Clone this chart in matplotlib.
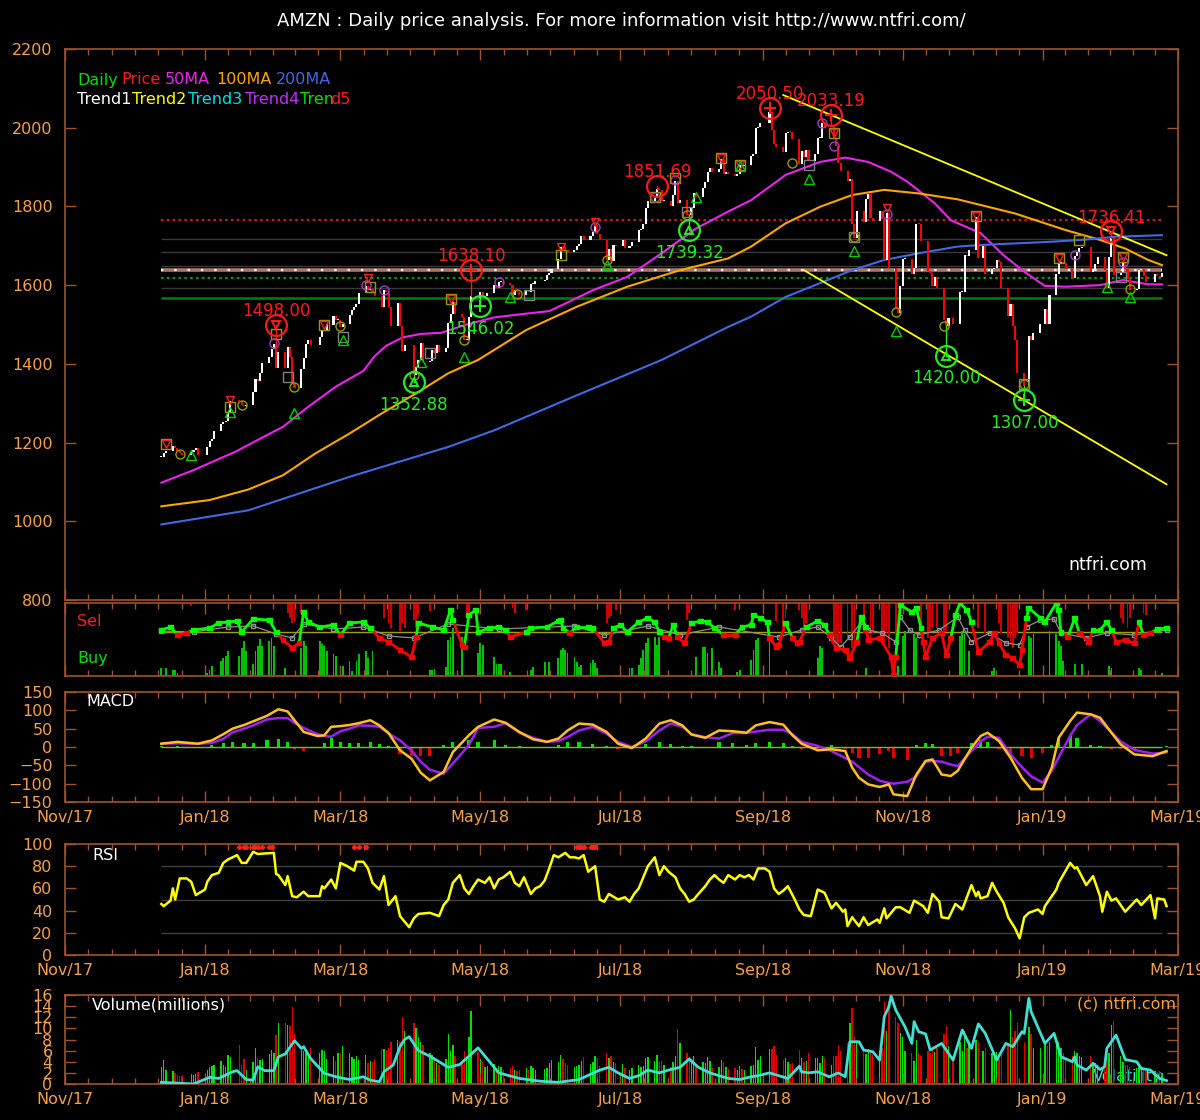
import numpy as np
import pandas as pd
import matplotlib
matplotlib.use('Agg')
import matplotlib.pyplot as plt
import matplotlib.dates as mdates
from matplotlib.ticker import FixedLocator

# ---------------- data ----------------
# daily closes, one list per month (13 Dec 2017 .. 22 Feb 2019)
close_2017_12 = [1164.13, 1174.26, 1179.14, 1190.58, 1187.38, 1177.62, 1174.76, 1168.36, 1176.76, 1182.26, 1186.10, 1169.47]
close_2018_01 = [1189.01, 1204.20, 1209.59, 1229.14, 1246.87, 1252.70, 1254.33, 1276.68, 1305.20, 1304.86, 1295.00,
                 1293.32, 1294.58, 1327.31, 1362.54, 1357.51, 1377.95, 1402.05, 1417.68, 1437.82, 1450.89]
close_2018_02 = [1390.00, 1429.95, 1390.00, 1442.84, 1416.78, 1350.50, 1339.60, 1386.23, 1414.51, 1451.05, 1461.76,
                 1448.69, 1468.35, 1482.92, 1484.76, 1500.00, 1521.95, 1511.98, 1512.45]
close_2018_03 = [1493.45, 1500.25, 1523.61, 1537.64, 1545.00, 1551.86, 1578.89, 1598.39, 1588.18, 1591.00, 1582.32,
                 1571.68, 1544.93, 1586.51, 1581.86, 1544.10, 1495.56, 1555.86, 1497.05, 1431.42, 1447.34]
close_2018_04 = [1371.99, 1392.05, 1410.57, 1451.75, 1405.23, 1406.08, 1436.22, 1427.05, 1448.50, 1430.79, 1441.50,
                 1503.83, 1527.84, 1556.91, 1527.49, 1517.86, 1460.09, 1460.17, 1517.96, 1572.62, 1566.13]
close_2018_05 = [1582.26, 1569.68, 1572.08, 1580.95, 1600.14, 1592.39, 1608.00, 1609.08, 1602.91, 1601.54, 1576.12,
                 1587.28, 1581.76, 1574.37, 1585.46, 1581.40, 1601.86, 1603.07, 1610.15, 1612.87, 1624.89, 1629.62]
close_2018_06 = [1641.54, 1665.27, 1696.35, 1695.75, 1689.30, 1683.99, 1689.12, 1698.75, 1704.86, 1723.86, 1715.97,
                 1723.79, 1734.78, 1750.08, 1730.22, 1715.67, 1663.15, 1691.09, 1660.51, 1701.45, 1699.80]
close_2018_07 = [1713.78, 1693.96, 1699.73, 1710.63, 1739.02, 1743.07, 1755.00, 1796.62, 1813.03, 1822.49, 1843.93,
                 1842.92, 1812.97, 1813.70, 1802.00, 1829.24, 1863.61, 1808.00, 1817.27, 1779.22, 1777.44]
close_2018_08 = [1797.17, 1834.33, 1823.29, 1847.75, 1862.48, 1886.52, 1898.52, 1886.30, 1896.20, 1919.65, 1882.62,
                 1886.52, 1882.22, 1876.71, 1883.42, 1904.90, 1902.90, 1905.39, 1927.68, 1932.82, 1998.10, 2002.38, 2012.71]
close_2018_09 = [2039.51, 1994.82, 1958.31, 1952.07, 1939.01, 1987.15, 1990.00, 1989.87, 1970.19, 1908.03, 1941.05,
                 1926.42, 1944.30, 1915.01, 1934.36, 1974.55, 1974.85, 2012.98, 2003.00]
close_2018_10 = [2004.36, 1971.31, 1952.76, 1909.42, 1889.65, 1864.42, 1870.32, 1755.25, 1719.36, 1788.61, 1760.95,
                 1819.96, 1831.73, 1770.72, 1764.03, 1789.30, 1768.70, 1664.20, 1782.17, 1642.81, 1538.88, 1530.42, 1598.01]
close_2018_11 = [1665.53, 1665.53, 1627.80, 1642.81, 1755.49, 1754.91, 1712.43, 1636.85, 1631.17, 1599.01, 1619.44,
                 1593.41, 1512.29, 1495.46, 1516.73, 1502.06, 1581.33, 1581.42, 1677.75, 1673.57, 1690.17]
close_2018_12 = [1772.36, 1668.40, 1699.19, 1629.13, 1641.03, 1643.24, 1663.54, 1658.38, 1591.91, 1520.91, 1551.48,
                 1495.08, 1460.83, 1377.45, 1343.96, 1470.90, 1461.64, 1478.02, 1501.97]
close_2019_01 = [1539.13, 1500.28, 1575.39, 1629.51, 1656.58, 1659.42, 1656.22, 1640.56, 1617.21, 1674.56, 1683.78,
                 1693.22, 1696.20, 1632.17, 1640.02, 1654.93, 1670.57, 1637.89, 1593.88, 1670.43, 1718.73]
close_2019_02 = [1626.23, 1633.31, 1658.81, 1640.26, 1614.37, 1588.22, 1591.00, 1638.01, 1640.00, 1622.65, 1607.95,
                 1627.58, 1622.10, 1619.44, 1631.56]

# daily volume in millions, same days
vol_2017_12 = [3.1, 4.3, 2.6, 2.3, 2.0, 1.6, 1.4, 1.5, 1.8, 1.7, 1.8, 2.1]
vol_2018_01 = [2.5, 3.0, 3.2, 3.4, 4.2, 3.5, 3.0, 5.2, 4.8, 7.1, 3.5, 4.5, 2.6, 4.0, 6.5, 4.7, 4.3, 4.5, 5.4, 6.1, 5.5]
vol_2018_02 = [8.8, 11.0, 10.9, 10.6, 10.4, 13.8, 9.0, 6.2, 6.0, 5.5, 5.0, 6.5, 5.5, 6.2, 6.0, 4.5, 5.0, 4.2, 5.5]
vol_2018_03 = [5.5, 6.8, 5.5, 4.8, 4.5, 5.0, 4.3, 5.2, 3.8, 4.2, 4.0, 4.5, 6.3, 6.3, 6.1, 6.5, 7.5, 8.0, 7.5, 12.0, 9.5]
vol_2018_04 = [11.0, 10.0, 8.5, 7.5, 7.0, 5.5, 5.2, 4.8, 3.8, 3.5, 4.5, 9.0, 6.0, 7.0, 5.0, 4.0, 6.0, 4.5, 8.5, 13.2, 5.8]
vol_2018_05 = [4.5, 3.9, 3.0, 3.2, 3.6, 2.9, 3.3, 3.0, 2.6, 2.9, 3.3, 2.6, 2.4, 2.5, 2.8, 2.6, 3.3, 2.9, 2.5, 2.7, 2.9, 3.8]
vol_2018_06 = [4.3, 4.0, 5.3, 4.5, 3.8, 3.4, 3.0, 3.3, 3.5, 4.2, 4.8, 3.6, 3.9, 5.0, 4.6, 3.2, 5.6, 4.7, 5.1, 3.9, 3.8]
vol_2018_07 = [3.6, 2.8, 2.5, 2.9, 3.5, 3.0, 3.2, 4.7, 4.8, 4.1, 5.3, 3.9, 4.2, 3.4, 3.0, 3.9, 5.1, 9.9, 7.3, 5.6, 4.9]
vol_2018_08 = [4.1, 5.1, 3.5, 3.9, 3.7, 4.9, 4.1, 2.8, 3.1, 4.3, 4.0, 3.0, 2.7, 2.9, 2.5, 3.3, 2.7, 2.5, 3.3, 3.4, 6.6, 4.3, 5.0]
vol_2018_09 = [6.3, 6.3, 6.8, 5.3, 4.3, 4.6, 3.9, 3.6, 3.7, 6.1, 4.6, 4.0, 4.2, 5.5, 4.6, 4.6, 3.8, 5.0, 4.6]
vol_2018_10 = [3.5, 5.1, 5.1, 7.0, 5.9, 7.3, 10.9, 13.6, 8.5, 7.4, 6.6, 5.4, 6.3, 6.0, 5.2, 6.0, 6.5, 14.8, 9.5, 15.0,
               12.0, 11.0, 9.1]
vol_2018_11 = [8.5, 6.0, 5.5, 4.2, 8.0, 5.5, 5.0, 6.0, 5.5, 6.2, 5.8, 6.5, 9.0, 10.5, 6.8, 5.0, 7.5, 6.0, 9.5, 6.5, 7.0]
vol_2018_12 = [8.0, 7.5, 6.0, 6.5, 5.5, 5.0, 5.8, 4.5, 6.2, 7.0, 13.3, 8.5, 9.5, 11.0, 7.5, 10.3, 9.0, 6.5, 6.5]
vol_2019_01 = [7.5, 6.8, 7.5, 7.0, 7.5, 6.5, 5.5, 4.5, 5.0, 6.0, 5.5, 5.0, 4.8, 5.0, 4.0, 3.8, 3.5, 4.5, 5.0, 5.5, 10.6]
vol_2019_02 = [11.3, 5.0, 4.0, 3.5, 3.5, 3.0, 2.8, 3.0, 2.7, 2.5, 2.5, 2.3, 2.2, 2.4, 2.0]

market_holidays = ['2017-12-25', '2018-01-01', '2018-01-15', '2018-02-19', '2018-03-30', '2018-05-28',
                   '2018-07-04', '2018-09-03', '2018-11-22', '2018-12-05', '2018-12-25', '2019-01-01',
                   '2019-01-21', '2019-02-18']

# moving averages
ma50 = [('2017-12-13', 1098), ('2017-12-27', 1130), ('2018-01-14', 1176), ('2018-01-30', 1225), ('2018-02-04', 1240),
        ('2018-02-15', 1291), ('2018-02-27', 1342), ('2018-03-11', 1382), ('2018-03-16', 1420), ('2018-03-21', 1446),
        ('2018-03-28', 1467), ('2018-04-05', 1476), ('2018-04-14', 1479), ('2018-04-25', 1500), ('2018-05-07', 1518),
        ('2018-05-20', 1527), ('2018-05-31', 1534), ('2018-06-08', 1556), ('2018-06-19', 1587), ('2018-07-04', 1621),
        ('2018-07-19', 1681), ('2018-08-03', 1744), ('2018-08-17', 1787), ('2018-08-27', 1816), ('2018-09-04', 1850),
        ('2018-09-11', 1880), ('2018-09-26', 1913), ('2018-10-07', 1924), ('2018-10-17', 1913), ('2018-10-27', 1888),
        ('2018-11-03', 1863), ('2018-11-15', 1808), ('2018-11-22', 1765), ('2018-12-05', 1732), ('2018-12-15', 1676),
        ('2018-12-24', 1634), ('2019-01-02', 1598), ('2019-01-11', 1596), ('2019-01-26', 1600), ('2019-02-05', 1613),
        ('2019-02-16', 1602), ('2019-02-22', 1602)]
ma100 = [('2017-12-13', 1038), ('2018-01-03', 1054), ('2018-01-20', 1081), ('2018-02-04', 1117), ('2018-02-18', 1172),
         ('2018-03-05', 1223), ('2018-03-19', 1274), ('2018-04-03', 1325), ('2018-04-17', 1376), ('2018-04-30', 1410),
         ('2018-05-21', 1486), ('2018-06-12', 1545), ('2018-07-04', 1596), ('2018-07-27', 1638), ('2018-08-17', 1668),
         ('2018-08-27', 1698), ('2018-09-11', 1757), ('2018-09-26', 1799), ('2018-10-10', 1829), ('2018-10-24', 1842),
         ('2018-11-08', 1833), ('2018-11-25', 1818), ('2018-12-20', 1782), ('2019-01-11', 1740), ('2019-01-26', 1715),
         ('2019-02-06', 1693), ('2019-02-16', 1664), ('2019-02-22', 1651)]
ma200 = [('2017-12-13', 992), ('2018-01-20', 1028), ('2018-03-05', 1113), ('2018-04-17', 1189), ('2018-05-07', 1231),
         ('2018-06-12', 1320), ('2018-07-19', 1410), ('2018-08-17', 1494), ('2018-08-27', 1520), ('2018-09-11', 1570),
         ('2018-09-26', 1605), ('2018-10-10', 1638), ('2018-10-24', 1664), ('2018-11-08', 1681), ('2018-11-25', 1698),
         ('2018-12-05', 1702), ('2018-12-20', 1706), ('2019-01-04', 1710), ('2019-01-18', 1715), ('2019-02-02', 1723),
         ('2019-02-22', 1727)]

# support / resistance levels
level_red_dotted = 1765
levels_gray = [1716, 1685, 1648, 1592]
level_main = 1638.10
level_green_dotted = 1619
level_green = 1568

# trend lines (start date, start price, end date, end price)
trend_upper = ('2018-09-10', 2083, '2019-02-24', 1676)
trend_lower = ('2018-09-19', 1638, '2019-02-24', 1094)

# marked highs and lows
peak_dates = ['2018-02-01', '2018-04-27', '2018-07-17', '2018-09-04', '2018-10-01', '2019-01-31']
peak_values = [1498.00, 1638.10, 1851.69, 2050.50, 2033.19, 1736.41]
peak_marks = ['v', '+', '', '+', '+', 'v']
trough_dates = ['2018-04-02', '2018-05-01', '2018-07-31', '2018-11-20', '2018-12-24']
trough_values = [1352.88, 1546.02, 1739.32, 1420.00, 1307.00]
trough_marks = ['^', '+', '^', '^', '+']

# small signal marks on the price panel
sig_down = [('2017-12-15', 1196), ('2018-01-12', 1308), ('2018-02-22', 1498), ('2018-03-13', 1617), ('2018-04-18', 1566),
            ('2018-06-05', 1698), ('2018-06-20', 1761), ('2018-08-14', 1922), ('2018-08-22', 1905), ('2018-10-02', 1986),
            ('2018-10-25', 1795), ('2018-12-03', 1775), ('2019-01-08', 1668), ('2019-02-05', 1672)]
sig_up = [('2017-12-26', 1168), ('2018-01-12', 1278), ('2018-02-09', 1274), ('2018-03-02', 1460), ('2018-04-05', 1405),
          ('2018-04-24', 1418), ('2018-05-14', 1570), ('2018-06-25', 1651), ('2018-08-03', 1825), ('2018-08-22', 1903),
          ('2018-09-21', 1869), ('2018-10-11', 1687), ('2018-10-29', 1484), ('2019-01-29', 1596), ('2019-02-08', 1570)]
sig_olive_circle = [('2017-12-21', 1172), ('2018-01-17', 1295), ('2018-02-09', 1342), ('2018-03-01', 1496),
                    ('2018-04-02', 1371), ('2018-04-24', 1460), ('2018-05-17', 1577), ('2018-06-25', 1664),
                    ('2018-07-30', 1778), ('2018-09-14', 1910), ('2018-10-11', 1723), ('2018-10-29', 1532),
                    ('2018-11-19', 1497), ('2018-12-24', 1350), ('2019-02-08', 1589)]
sig_purple_circle = [('2018-01-31', 1454), ('2018-03-12', 1600), ('2018-03-20', 1587), ('2018-05-09', 1609),
                     ('2018-06-20', 1748), ('2018-07-16', 1825), ('2018-07-25', 1867), ('2018-09-27', 2013),
                     ('2018-10-02', 1953), ('2018-10-25', 1781), ('2019-01-15', 1676), ('2019-02-05', 1660)]
sig_olive_square = [('2017-12-15', 1196), ('2018-01-12', 1290), ('2018-02-01', 1477), ('2018-02-22', 1498),
                    ('2018-03-14', 1596), ('2018-04-18', 1566), ('2018-06-05', 1676), ('2018-07-16', 1825),
                    ('2018-07-25', 1871), ('2018-08-14', 1922), ('2018-08-22', 1905), ('2018-10-02', 1986),
                    ('2018-12-03', 1775), ('2019-01-08', 1668), ('2019-01-17', 1715), ('2019-02-05', 1672)]
sig_gray_square = [('2018-02-06', 1367), ('2018-03-02', 1469), ('2018-04-09', 1427), ('2018-05-22', 1575),
                   ('2018-07-30', 1787), ('2018-09-21', 1905), ('2018-10-11', 1723), ('2018-12-24', 1350),
                   ('2019-02-04', 1620)]

# Sel / Buy oscillator (arbitrary units, 0 = neutral)
sel_osc = [('2017-12-13', 2), ('2017-12-17', 5), ('2017-12-20', -3), ('2017-12-24', -1), ('2017-12-27', 2),
           ('2018-01-03', 4), ('2018-01-07', 9), ('2018-01-11', 10), ('2018-01-15', 11), ('2018-01-17', 0),
           ('2018-01-22', 13), ('2018-01-29', 12), ('2018-02-01', 0), ('2018-02-04', -8), ('2018-02-08', -16),
           ('2018-02-11', -11), ('2018-02-13', 20), ('2018-02-15', 10), ('2018-02-20', 5), ('2018-02-26', 7),
           ('2018-03-01', -3), ('2018-03-05', 9), ('2018-03-11', 10), ('2018-03-14', 4), ('2018-03-18', -6),
           ('2018-03-22', -10), ('2018-03-27', -18), ('2018-04-01', -25), ('2018-04-03', -5), ('2018-04-04', 9),
           ('2018-04-10', 5), ('2018-04-15', 2), ('2018-04-18', 22), ('2018-04-19', 12), ('2018-04-23', -13),
           ('2018-04-24', -15), ('2018-04-26', 17), ('2018-04-29', 22), ('2018-04-30', 0), ('2018-05-05', 4),
           ('2018-05-09', 5), ('2018-05-12', 2), ('2018-05-14', -5), ('2018-05-21', 0), ('2018-05-23', 4),
           ('2018-05-30', 5), ('2018-06-04', 11), ('2018-06-05', 12), ('2018-06-06', 4), ('2018-06-09', -1),
           ('2018-06-12', 5), ('2018-06-17', 5), ('2018-06-19', 4), ('2018-06-24', -11), ('2018-06-26', -10),
           ('2018-06-28', 4), ('2018-07-01', 7), ('2018-07-04', 0), ('2018-07-09', 10), ('2018-07-13', 14),
           ('2018-07-16', 10), ('2018-07-18', 0), ('2018-07-20', -5), ('2018-07-22', -6), ('2018-07-24', 7),
           ('2018-07-26', -5), ('2018-07-29', -11), ('2018-08-01', 9), ('2018-08-05', 11), ('2018-08-08', 10),
           ('2018-08-11', 4), ('2018-08-15', -3), ('2018-08-20', -3), ('2018-08-23', 5), ('2018-08-27', 7),
           ('2018-08-28', 17), ('2018-08-31', 14), ('2018-09-03', 10), ('2018-09-04', -6), ('2018-09-07', -15),
           ('2018-09-08', -13), ('2018-09-11', 9), ('2018-09-14', -6), ('2018-09-16', -11), ('2018-09-17', -10),
           ('2018-09-20', 5), ('2018-09-25', 11), ('2018-09-28', 7), ('2018-09-30', -3), ('2018-10-03', -16),
           ('2018-10-07', -18), ('2018-10-09', -26), ('2018-10-12', -10), ('2018-10-14', 15), ('2018-10-16', 5),
           ('2018-10-17', -8), ('2018-10-22', -6), ('2018-10-27', -25), ('2018-10-28', -43), ('2018-10-29', -25),
           ('2018-10-31', 27), ('2018-11-05', 20), ('2018-11-07', 24), ('2018-11-09', 4), ('2018-11-10', -10),
           ('2018-11-11', -25), ('2018-11-14', -6), ('2018-11-18', -1), ('2018-11-20', -23), ('2018-11-22', -6),
           ('2018-11-24', 17), ('2018-11-26', 29), ('2018-11-29', 22), ('2018-12-01', 10), ('2018-12-04', -20),
           ('2018-12-09', -10), ('2018-12-11', -1), ('2018-12-13', -11), ('2018-12-16', -23), ('2018-12-19', -26),
           ('2018-12-22', -33), ('2018-12-23', -18), ('2018-12-25', 14), ('2018-12-26', 24), ('2018-12-31', 14),
           ('2019-01-02', 10), ('2019-01-07', 29), ('2019-01-08', 22), ('2019-01-09', 0), ('2019-01-12', -5),
           ('2019-01-15', 14), ('2019-01-17', -1), ('2019-01-21', -10), ('2019-01-23', 2), ('2019-01-26', 2),
           ('2019-01-29', 10), ('2019-01-31', 2), ('2019-02-02', -10), ('2019-02-06', -8), ('2019-02-10', -11),
           ('2019-02-12', 10), ('2019-02-14', -3), ('2019-02-17', -1), ('2019-02-20', 3), ('2019-02-24', 4)]
sel_gray = [('2017-12-13', 1), ('2017-12-27', 0), ('2018-01-11', 5), ('2018-01-22', 6), ('2018-02-01', -2),
            ('2018-02-08', -6), ('2018-02-13', 8), ('2018-02-26', 3), ('2018-03-11', 5), ('2018-03-22', -4),
            ('2018-04-02', -6), ('2018-04-17', 8), ('2018-05-09', 3), ('2018-06-11', 6), ('2018-06-24', -3),
            ('2018-07-13', 6), ('2018-07-27', -3), ('2018-08-13', 5), ('2018-09-08', -5), ('2018-09-18', 2),
            ('2018-09-25', 5), ('2018-10-01', -6), ('2018-10-05', -15), ('2018-10-09', -5), ('2018-10-14', 10),
            ('2018-10-17', 2), ('2018-10-23', -1), ('2018-10-29', -10), ('2018-10-31', 15), ('2018-11-04', 2),
            ('2018-11-08', -3), ('2018-11-17', 2), ('2018-11-25', 15), ('2018-11-28', 2), ('2018-12-01', -10),
            ('2018-12-09', -1), ('2018-12-16', -11), ('2018-12-22', -13), ('2018-12-25', 5), ('2018-12-31', 12),
            ('2019-01-06', 13), ('2019-01-09', -1), ('2019-01-20', -6), ('2019-01-29', -1), ('2019-02-10', -3),
            ('2019-02-24', 2)]
buy_bars = [('2017-12-13', 8), ('2017-12-15', 8), ('2017-12-18', 6), ('2017-12-19', 6), ('2017-12-20', 3),
            ('2018-01-02', 3), ('2018-01-03', 6), ('2018-01-04', 10), ('2018-01-08', 15), ('2018-01-09', 18),
            ('2018-01-10', 20), ('2018-01-11', 25), ('2018-01-16', 20), ('2018-01-17', 28), ('2018-01-18', 35),
            ('2018-01-19', 25), ('2018-01-22', 12), ('2018-01-23', 25), ('2018-01-24', 30), ('2018-01-25', 37),
            ('2018-01-26', 30), ('2018-01-29', 35), ('2018-01-30', 38), ('2018-01-31', 30), ('2018-02-05', 8),
            ('2018-02-12', 28), ('2018-02-13', 35), ('2018-02-14', 30), ('2018-02-20', 35), ('2018-02-21', 32),
            ('2018-02-22', 30), ('2018-02-23', 25), ('2018-02-26', 22), ('2018-02-27', 20), ('2018-03-02', 10),
            ('2018-03-05', 15), ('2018-03-06', 5), ('2018-03-08', 15), ('2018-03-09', 22), ('2018-03-12', 25),
            ('2018-03-13', 18), ('2018-03-15', 25), ('2018-04-09', 6), ('2018-04-10', 6), ('2018-04-11', 7),
            ('2018-04-16', 9), ('2018-04-17', 36), ('2018-04-18', 39), ('2018-04-19', 48), ('2018-04-23', 39),
            ('2018-04-30', 23), ('2018-05-01', 33), ('2018-05-02', 31), ('2018-05-07', 19), ('2018-05-08', 12),
            ('2018-05-09', 12), ('2018-05-10', 12), ('2018-05-14', 4), ('2018-05-23', 6), ('2018-05-24', 9),
            ('2018-05-29', 14), ('2018-05-31', 14), ('2018-06-04', 18), ('2018-06-05', 26), ('2018-06-06', 28),
            ('2018-06-07', 26), ('2018-06-08', 23), ('2018-06-11', 19), ('2018-06-12', 14), ('2018-06-13', 9),
            ('2018-06-14', 11), ('2018-06-18', 13), ('2018-06-19', 16), ('2018-06-20', 13), ('2018-06-21', 8),
            ('2018-07-05', 8), ('2018-07-06', 8), ('2018-07-09', 11), ('2018-07-10', 18), ('2018-07-11', 26),
            ('2018-07-12', 33), ('2018-07-13', 38), ('2018-07-16', 39), ('2018-07-17', 31), ('2018-07-18', 39),
            ('2018-08-03', 19), ('2018-08-06', 29), ('2018-08-07', 29), ('2018-08-08', 23), ('2018-08-10', 28),
            ('2018-08-13', 14), ('2018-08-14', 8), ('2018-08-21', 4), ('2018-08-22', 6), ('2018-08-27', 16),
            ('2018-08-28', 26), ('2018-08-29', 36), ('2018-08-30', 38), ('2018-09-04', 41), ('2018-09-25', 18),
            ('2018-09-26', 30), ('2018-09-27', 28), ('2018-10-16', 8), ('2018-10-30', 10),
            ('2018-11-01', 40), ('2018-11-02', 45), ('2018-11-06', 42), ('2018-11-07', 38), ('2018-11-26', 40),
            ('2018-11-27', 45), ('2018-11-28', 42), ('2018-11-30', 25), ('2018-12-10', 5), ('2018-12-11', 8),
            ('2018-12-26', 40), ('2018-12-27', 38), ('2018-12-28', 42), ('2019-01-04', 45), ('2019-01-07', 42),
            ('2019-01-08', 35), ('2019-01-09', 30), ('2019-01-10', 15), ('2019-01-15', 12), ('2019-01-18', 12),
            ('2019-01-30', 10), ('2019-01-31', 8), ('2019-02-12', 8), ('2019-02-13', 6), ('2019-02-22', 3)]
sell_bars = [('2017-12-26', 3), ('2018-02-06', 10), ('2018-02-07', 15), ('2018-02-08', 20), ('2018-02-09', 18),
             ('2018-02-12', 10), ('2018-03-20', 15), ('2018-03-22', 20), ('2018-03-23', 25), ('2018-03-27', 28),
             ('2018-03-28', 20), ('2018-03-29', 25), ('2018-04-02', 17), ('2018-04-03', 25), ('2018-04-04', 12),
             ('2018-04-09', 8), ('2018-04-25', 10), ('2018-04-26', 10), ('2018-05-15', 5), ('2018-05-16', 10),
             ('2018-05-21', 7), ('2018-06-25', 20), ('2018-06-26', 15), ('2018-06-27', 13), ('2018-06-29', 7),
             ('2018-07-30', 17), ('2018-07-31', 10), ('2018-08-20', 7), ('2018-09-07', 18), ('2018-09-10', 25),
             ('2018-09-11', 15), ('2018-09-17', 7), ('2018-09-18', 15), ('2018-09-19', 25), ('2018-09-20', 20),
             ('2018-10-02', 35), ('2018-10-03', 40),
             ('2018-10-04', 45), ('2018-10-05', 40), ('2018-10-08', 35), ('2018-10-10', 45), ('2018-10-11', 40),
             ('2018-10-15', 30), ('2018-10-18', 35), ('2018-10-19', 30), ('2018-10-23', 35), ('2018-10-24', 40),
             ('2018-10-25', 30), ('2018-10-26', 45), ('2018-10-29', 40), ('2018-11-09', 30), ('2018-11-12', 35),
             ('2018-11-13', 30), ('2018-11-14', 25), ('2018-11-16', 25), ('2018-11-19', 30), ('2018-11-20', 28),
             ('2018-12-04', 25), ('2018-12-07', 30), ('2018-12-13', 20), ('2018-12-14', 30), ('2018-12-17', 35),
             ('2018-12-18', 40), ('2018-12-19', 45), ('2018-12-20', 35), ('2018-12-21', 30), ('2019-02-04', 15),
             ('2019-02-05', 20), ('2019-02-07', 25), ('2019-02-08', 15), ('2019-02-14', 10), ('2019-02-15', 12)]

# MACD: dates, macd line, signal line, histogram
macd_dates = ['2017-12-13', '2017-12-20', '2017-12-29', '2018-01-04', '2018-01-09', '2018-01-13', '2018-01-18',
              '2018-01-22', '2018-01-28', '2018-02-02', '2018-02-06', '2018-02-09', '2018-02-13', '2018-02-19',
              '2018-02-22', '2018-02-25', '2018-03-01', '2018-03-05', '2018-03-09', '2018-03-14', '2018-03-18',
              '2018-03-22', '2018-03-27', '2018-04-01', '2018-04-05', '2018-04-09', '2018-04-15', '2018-04-19',
              '2018-04-26', '2018-04-30', '2018-05-07', '2018-05-12', '2018-05-18', '2018-05-24', '2018-05-30',
              '2018-06-04', '2018-06-08', '2018-06-13', '2018-06-19', '2018-06-25', '2018-06-30', '2018-07-06',
              '2018-07-12', '2018-07-18', '2018-07-23', '2018-07-28', '2018-08-01', '2018-08-07', '2018-08-13',
              '2018-08-19', '2018-08-25', '2018-08-29', '2018-09-04', '2018-09-10', '2018-09-14', '2018-09-18',
              '2018-09-25', '2018-10-01', '2018-10-07', '2018-10-10', '2018-10-13', '2018-10-17', '2018-10-22',
              '2018-10-26', '2018-10-28', '2018-11-03', '2018-11-07', '2018-11-11', '2018-11-14', '2018-11-18',
              '2018-11-22', '2018-11-25', '2018-12-01', '2018-12-05', '2018-12-08', '2018-12-13', '2018-12-18',
              '2018-12-23', '2018-12-27', '2019-01-01', '2019-01-05', '2019-01-08', '2019-01-13', '2019-01-16',
              '2019-01-22', '2019-01-26', '2019-01-31', '2019-02-04', '2019-02-10', '2019-02-18', '2019-02-24']
macd_line = [9, 14, 9, 18, 35, 50, 60, 70, 85, 103, 97, 73, 41, 30, 32, 55, 57, 60, 65, 73, 59,
             38, -9, -32, -70, -91, -68, -14, 32, 55, 75, 66, 41, 21, 14,
             23, 45, 64, 61, 41, 9, -3, 23, 64, 73, 59, 34, 25, 45,
             43, 39, 59, 68, 61, 32, 9, -9, -6, -11, -56, -84, -102, -109,
             -102, -129, -134, -75, -38, -34, -75, -79, -65, -2, 30, 39, 16, -29,
             -84, -115, -115, -56, 25, 71, 94, 89, 80, 39, 7, -20, -25, -11]
macd_signal = [9, 10, 9, 11, 22, 40, 50, 59, 75, 79, 79, 66, 52, 35, 30, 28, 43, 50, 59, 58, 55,
               37, 18, -10, -40, -62, -73, -45, 5, 52, 55, 65, 39, 25, 14,
               16, 27, 45, 55, 36, 14, 0, 15, 45, 64, 55, 35, 27, 23,
               38, 38, 42, 47, 47, 35, 14, 3, -11, -30, -40, -55, -75, -92,
               -98, -100, -95, -80, -40, -38, -40, -48, -52, -11, 15, 28, 25, -20,
               -55, -80, -97, -65, -28, 30, 60, 89, 71, 40, 15, -8, -18, -15]
macd_hist = [2, 3, -2, 5, 10, 15, 12, 12, 18, 22, 15, -5, -10, -3, 10, 25, 15, 10, 10, 15, 8,
             3, -20, -25, -25, -25, 5, 15, 20, 15, 20, 5, 3, -2, 0,
             5, 15, 15, 8, 3, -5, -5, 8, 15, 8, 3, 2, 0, 15,
             12, 5, 12, 15, 10, 3, -5, -8, 5, -5, -15, -30, -30, -20,
             -10, -30, -35, 5, 12, 8, -25, -25, -15, 12, 20, 15, -5, -15,
             -25, -30, -15, 5, 25, 30, 25, 5, 3, -5, -5, -5, -3, 3]

# RSI
rsi = [('2017-12-13', 46), ('2017-12-14', 44), ('2017-12-17', 49), ('2017-12-18', 60), ('2017-12-19', 50),
       ('2017-12-21', 69), ('2017-12-24', 69), ('2017-12-26', 66), ('2017-12-28', 54), ('2018-01-01', 59),
       ('2018-01-02', 66), ('2018-01-04', 72), ('2018-01-07', 74), ('2018-01-09', 83), ('2018-01-11', 86),
       ('2018-01-15', 90), ('2018-01-17', 83), ('2018-01-19', 83), ('2018-01-22', 93), ('2018-01-24', 91),
       ('2018-01-31', 92), ('2018-02-01', 73), ('2018-02-02', 72), ('2018-02-05', 63), ('2018-02-06', 71),
       ('2018-02-08', 53), ('2018-02-10', 52), ('2018-02-13', 57), ('2018-02-15', 53), ('2018-02-20', 53),
       ('2018-02-21', 62), ('2018-02-22', 60), ('2018-02-25', 68), ('2018-02-27', 60), ('2018-03-01', 83),
       ('2018-03-04', 80), ('2018-03-07', 76), ('2018-03-08', 84), ('2018-03-11', 84), ('2018-03-13', 78),
       ('2018-03-15', 65), ('2018-03-18', 59), ('2018-03-20', 71), ('2018-03-22', 45), ('2018-03-25', 53),
       ('2018-03-27', 35), ('2018-03-29', 30), ('2018-03-31', 25), ('2018-04-02', 33), ('2018-04-04', 37),
       ('2018-04-09', 38), ('2018-04-13', 35), ('2018-04-15', 45), ('2018-04-17', 50), ('2018-04-19', 65),
       ('2018-04-22', 72), ('2018-04-24', 60), ('2018-04-26', 55), ('2018-04-28', 62), ('2018-04-30', 68),
       ('2018-05-03', 65), ('2018-05-05', 70), ('2018-05-07', 60), ('2018-05-09', 68), ('2018-05-11', 70),
       ('2018-05-14', 75), ('2018-05-16', 65), ('2018-05-18', 62), ('2018-05-20', 70), ('2018-05-23', 55),
       ('2018-05-25', 60), ('2018-05-27', 62), ('2018-05-29', 67), ('2018-05-31', 78), ('2018-06-02', 90),
       ('2018-06-04', 88), ('2018-06-07', 92), ('2018-06-09', 88), ('2018-06-11', 88), ('2018-06-13', 87),
       ('2018-06-15', 90), ('2018-06-17', 75), ('2018-06-20', 80), ('2018-06-22', 50), ('2018-06-24', 48),
       ('2018-06-26', 55), ('2018-06-30', 50), ('2018-07-03', 52), ('2018-07-05', 48), ('2018-07-07', 55),
       ('2018-07-09', 60), ('2018-07-13', 80), ('2018-07-16', 88), ('2018-07-18', 72), ('2018-07-20', 80),
       ('2018-07-22', 75), ('2018-07-25', 70), ('2018-07-27', 60), ('2018-07-29', 55), ('2018-07-31', 48),
       ('2018-08-02', 50), ('2018-08-04', 55), ('2018-08-07', 62), ('2018-08-09', 68), ('2018-08-11', 72),
       ('2018-08-13', 68), ('2018-08-15', 65), ('2018-08-17', 72), ('2018-08-20', 68), ('2018-08-22', 72),
       ('2018-08-24', 70), ('2018-08-26', 72), ('2018-08-28', 68), ('2018-08-30', 78), ('2018-09-02', 78),
       ('2018-09-04', 75), ('2018-09-06', 60), ('2018-09-08', 55), ('2018-09-10', 58), ('2018-09-12', 62),
       ('2018-09-15', 50), ('2018-09-17', 41), ('2018-09-19', 36), ('2018-09-22', 35), ('2018-09-25', 59),
       ('2018-09-28', 56), ('2018-10-01', 42), ('2018-10-03', 47), ('2018-10-06', 39), ('2018-10-07', 41),
       ('2018-10-08', 26), ('2018-10-10', 34), ('2018-10-13', 26), ('2018-10-15', 34), ('2018-10-17', 27),
       ('2018-10-21', 32), ('2018-10-22', 29), ('2018-10-24', 42), ('2018-10-25', 33), ('2018-10-29', 43),
       ('2018-10-31', 43), ('2018-11-04', 38), ('2018-11-06', 49), ('2018-11-10', 44), ('2018-11-12', 38),
       ('2018-11-14', 55), ('2018-11-17', 48), ('2018-11-18', 34), ('2018-11-21', 33), ('2018-11-24', 46),
       ('2018-11-27', 41), ('2018-12-01', 63), ('2018-12-03', 53), ('2018-12-04', 57), ('2018-12-05', 51),
       ('2018-12-08', 53), ('2018-12-10', 65), ('2018-12-12', 57), ('2018-12-15', 47), ('2018-12-17', 34),
       ('2018-12-20', 24), ('2018-12-22', 15), ('2018-12-24', 34), ('2018-12-26', 38), ('2018-12-30', 41),
       ('2019-01-01', 37), ('2019-01-02', 44), ('2019-01-07', 59), ('2019-01-08', 65), ('2019-01-13', 83),
       ('2019-01-15', 78), ('2019-01-16', 79), ('2019-01-20', 63), ('2019-01-23', 71), ('2019-01-26', 53),
       ('2019-01-27', 39), ('2019-01-29', 57), ('2019-01-31', 49), ('2019-02-02', 51), ('2019-02-06', 39),
       ('2019-02-11', 50), ('2019-02-13', 45), ('2019-02-17', 54), ('2019-02-19', 33), ('2019-02-20', 51),
       ('2019-02-23', 50), ('2019-02-24', 44)]
rsi_overbought_dates = ['2018-01-16', '2018-01-18', '2018-01-19', '2018-01-22', '2018-01-23', '2018-01-24',
                        '2018-01-26', '2018-01-29', '2018-01-30', '2018-03-07', '2018-03-09', '2018-03-12',
                        '2018-06-12', '2018-06-13', '2018-06-14', '2018-06-15', '2018-06-18', '2018-06-19',
                        '2018-06-20']

# volatility line in the volume panel
volatility = [('2017-12-13', 0.3), ('2017-12-27', 0.0), ('2018-01-03', 1.2), ('2018-01-07', 1.0), ('2018-01-13', 2.2),
              ('2018-01-15', 2.4), ('2018-01-19', 0.8), ('2018-01-22', 0.7), ('2018-01-24', 3.1), ('2018-01-27', 2.4),
              ('2018-01-31', 2.4), ('2018-02-02', 4.9), ('2018-02-05', 5.4), ('2018-02-09', 7.8), ('2018-02-12', 6.4),
              ('2018-02-13', 6.7), ('2018-02-16', 4.6), ('2018-02-22', 1.9), ('2018-02-28', 1.2), ('2018-03-05', 0.8),
              ('2018-03-11', 1.3), ('2018-03-14', 0.7), ('2018-03-18', 0.4), ('2018-03-20', 2.2), ('2018-03-24', 3.4),
              ('2018-03-27', 6.7), ('2018-03-29', 8.0), ('2018-03-31', 8.5), ('2018-04-04', 6.0), ('2018-04-09', 5.0),
              ('2018-04-13', 4.0), ('2018-04-17', 3.0), ('2018-04-22', 3.5), ('2018-04-26', 5.0), ('2018-04-30', 6.5),
              ('2018-05-05', 4.0), ('2018-05-09', 2.0), ('2018-05-18', 1.0), ('2018-05-27', 0.5), ('2018-06-04', 0.3),
              ('2018-06-13', 0.8), ('2018-06-22', 2.5), ('2018-06-26', 3.0), ('2018-06-30', 2.0), ('2018-07-05', 1.0),
              ('2018-07-09', 1.5), ('2018-07-13', 2.5), ('2018-07-18', 2.0), ('2018-07-22', 2.5), ('2018-07-27', 3.0),
              ('2018-07-31', 4.5), ('2018-08-04', 3.0), ('2018-08-09', 2.0), ('2018-08-13', 1.5), ('2018-08-17', 1.0),
              ('2018-08-22', 0.8), ('2018-08-26', 1.2), ('2018-08-30', 1.5), ('2018-09-04', 2.0), ('2018-09-08', 1.5),
              ('2018-09-12', 1.0), ('2018-09-17', 3.2), ('2018-09-18', 2.2), ('2018-09-21', 2.0), ('2018-09-25', 2.2),
              ('2018-09-30', 1.3), ('2018-10-04', 2.0), ('2018-10-07', 1.3), ('2018-10-09', 7.6), ('2018-10-13', 7.6),
              ('2018-10-15', 6.1), ('2018-10-19', 5.8), ('2018-10-22', 4.3), ('2018-10-24', 12.1), ('2018-10-26', 13.9),
              ('2018-10-27', 15.8), ('2018-10-29', 13.3), ('2018-11-02', 10.3), ('2018-11-05', 7.3), ('2018-11-06', 11.2),
              ('2018-11-08', 9.4), ('2018-11-11', 9.0), ('2018-11-13', 6.1), ('2018-11-18', 7.3), ('2018-11-23', 4.3),
              ('2018-11-25', 7.0), ('2018-11-27', 9.7), ('2018-12-01', 6.4), ('2018-12-04', 10.8), ('2018-12-07', 9.1),
              ('2018-12-12', 4.3), ('2018-12-16', 7.3), ('2018-12-19', 6.7), ('2018-12-23', 9.4), ('2018-12-24', 9.1),
              ('2018-12-26', 15.4), ('2018-12-27', 13.0), ('2019-01-02', 7.3), ('2019-01-06', 9.1), ('2019-01-09', 4.9),
              ('2019-01-14', 4.0), ('2019-01-15', 4.9), ('2019-01-16', 3.4), ('2019-01-20', 2.5), ('2019-01-23', 3.7),
              ('2019-01-26', 2.6), ('2019-01-28', 3.1), ('2019-01-29', 6.4), ('2019-02-02', 8.8), ('2019-02-06', 4.4),
              ('2019-02-11', 4.0), ('2019-02-13', 2.8), ('2019-02-17', 2.5), ('2019-02-21', 1.0), ('2019-02-24', 0.6)]

# ---------------- prepare ----------------
def unpack(pairs):
    d = mdates.datestr2num([p[0] for p in pairs])
    v = np.array([p[1] for p in pairs], dtype=float)
    return d, v

closes = np.array(close_2017_12 + close_2018_01 + close_2018_02 + close_2018_03 + close_2018_04 + close_2018_05 +
                  close_2018_06 + close_2018_07 + close_2018_08 + close_2018_09 + close_2018_10 + close_2018_11 +
                  close_2018_12 + close_2019_01 + close_2019_02)
volumes = np.array(vol_2017_12 + vol_2018_01 + vol_2018_02 + vol_2018_03 + vol_2018_04 + vol_2018_05 +
                   vol_2018_06 + vol_2018_07 + vol_2018_08 + vol_2018_09 + vol_2018_10 + vol_2018_11 +
                   vol_2018_12 + vol_2019_01 + vol_2019_02)
days = pd.bdate_range('2017-12-13', '2019-02-22')
days = days[~days.isin(pd.to_datetime(market_holidays))]
n = min(len(days), len(closes), len(volumes))
x = mdates.date2num(days[:n].to_pydatetime())
closes = closes[:n]
volumes = volumes[:n]
opens = np.r_[closes[0], closes[:-1]]
up = closes >= opens

W, H = 1200, 1120
BG = 'black'
FRAME = '#a0522d'
LABEL = '#f5a04a'

def box(top, bottom):
    return [65 / W, 1 - bottom / H, (1178 - 65) / W, (bottom - top) / H]

fig = plt.figure(figsize=(12, 11.2), dpi=100)
fig.patch.set_facecolor(BG)
ax_p = fig.add_axes(box(49, 600))
ax_s = fig.add_axes(box(603, 676))
ax_m = fig.add_axes(box(692, 802))
ax_r = fig.add_axes(box(844, 955))
ax_v = fig.add_axes(box(995, 1084))

xmin = mdates.datestr2num('2017-11-01')
xmax = mdates.datestr2num('2019-03-01')
majors = mdates.date2num(pd.date_range('2017-11-01', '2019-03-01', freq='2MS').to_pydatetime())
minors = []
for a, b in zip(majors[:-1], majors[1:]):
    minors += list(np.linspace(a, b, 7)[1:-1])

for ax in [ax_p, ax_s, ax_m, ax_r, ax_v]:
    ax.set_facecolor(BG)
    for sp in ax.spines.values():
        sp.set_color(FRAME)
        sp.set_linewidth(1.2)
    ax.set_xlim(xmin, xmax)
    ax.xaxis.set_major_locator(FixedLocator(majors))
    ax.xaxis.set_minor_locator(FixedLocator(minors))
    ax.xaxis.set_major_formatter(mdates.DateFormatter('%b/%y'))
    ax.tick_params(which='both', direction='in', color=FRAME, top=True, right=True,
                   labelcolor=LABEL, labelsize=11.5, pad=9)
    ax.tick_params(which='major', length=8, width=1)
    ax.tick_params(which='minor', length=4, width=1)
    ax.tick_params(axis='x', pad=6)

for ax in [ax_p, ax_s]:
    ax.tick_params(axis='x', labelbottom=False)

# ---------------- price panel ----------------
ax_p.set_ylim(800, 2200)
ax_p.set_yticks(range(800, 2201, 200))
x0, x1 = x[0], x[-1]
ax_p.hlines(levels_gray, x0, x1, color='#3a3a3a', lw=1.0, zorder=1)
ax_p.hlines(level_red_dotted, x0, x1, color='#ff2020', lw=1.2, linestyles=(0, (1.5, 2)), zorder=1)
ax_p.hlines(level_main, x0, x1, color='#a87868', lw=2.6, zorder=1)
ax_p.hlines(level_main, x0, x1, color='white', lw=1.6, linestyles=(0, (1, 5)), zorder=1)
ax_p.hlines(level_green_dotted, x0, x1, color='#00c000', lw=1.2, linestyles=(0, (1.5, 2)), zorder=1)
ax_p.hlines(level_green, x0, x1, color='#008000', lw=1.8, zorder=1)

for pairs, col in [(ma50, '#ee22ee'), (ma100, '#ffa500'), (ma200, '#4169e1')]:
    d, v = unpack(pairs)
    ax_p.plot(d, v, color=col, lw=1.5, zorder=2)

for tl in [trend_upper, trend_lower]:
    ax_p.plot(mdates.datestr2num([tl[0], tl[2]]), [tl[1], tl[3]], color='#ffff00', lw=1.3, zorder=3)

body_lo = np.minimum(opens, closes)
body_h = np.maximum(np.abs(closes - opens), 3.0)
ax_p.bar(x[up], body_h[up], bottom=body_lo[up], width=0.9, color='white', lw=0, zorder=4)
ax_p.bar(x[~up], body_h[~up], bottom=body_lo[~up], width=0.9, color='#ff0000', lw=0, zorder=4)

# small signal marks
for pairs, mk, col, ms in [(sig_olive_square, 's', '#9a9a00', 6.5), (sig_gray_square, 's', '#808080', 6.5),
                           (sig_olive_circle, 'o', '#9a9a00', 6.5), (sig_purple_circle, 'o', '#a040c0', 6.5),
                           (sig_down, 'v', '#ff2020', 6), (sig_up, '^', '#00d000', 7)]:
    d, v = unpack(pairs)
    ax_p.plot(d, v, mk, ms=ms, mfc='none', mec=col, mew=1.0, zorder=5)

def mark(dates, values, marks, col, dy):
    d = mdates.datestr2num(dates)
    for xi, vi, mk in zip(d, values, marks):
        i = np.argmin(np.abs(x - xi))
        edge = body_lo[i] + body_h[i] if dy > 0 else body_lo[i]
        ax_p.plot([x[i], x[i]], [edge, vi], color=col, lw=1, zorder=4)
        ax_p.plot(x[i], vi, 'o', ms=15, mfc='none', mec=col, mew=1.6, zorder=6)
        if mk:
            ax_p.plot(x[i], vi, mk, ms=8 if mk == '+' else 6, mfc='none', mec=col, mew=1.4, zorder=6)
        ax_p.annotate('%.2f' % vi, (x[i], vi), xytext=(0, dy), textcoords='offset points',
                      ha='center', va='center', color=col, fontsize=12, zorder=7)

mark(peak_dates, peak_values, peak_marks, '#ff1a1a', 10)
mark(trough_dates, trough_values, trough_marks, '#22ee22', -16)

ax_p.text(1108 / W, 1 - 565 / H, 'ntfri.com', transform=fig.transFigure, color='white',
          fontsize=12.5, ha='center', va='center')

# legend words
legend1 = [('Daily', 77, '#00e000'), ('Price', 121, '#ff1a1a'), ('50MA', 165, '#ee22ee'),
           ('100MA', 216, '#ffa500'), ('200MA', 276, '#4169e1')]
legend2 = [('Trend1', 77, 'white'), ('Trend2', 132, '#ffff00'), ('Trend3', 188, '#00e0e0'),
           ('Trend4', 245, '#c030ff'), ('Tren', 300, '#00e000'), ('d5', 330, '#ff1a1a')]
for words, yy in [(legend1, 80), (legend2, 100)]:
    for txt, xx, col in words:
        fig.text(xx / W, 1 - yy / H, txt, color=col, fontsize=11.5, ha='left', va='center')

fig.text(621 / W, 1 - 21 / H, 'AMZN : Daily price analysis. For more information visit http://www.ntfri.com/',
         color='white', fontsize=13, ha='center', va='center')

# ---------------- sel / buy panel ----------------
ax_s.set_ylim(-44, 29)
ax_s.set_yticks([])
ax_s.hlines(0, x0, x1, color='#a0a000', lw=1.0, zorder=1)
bd, bh = unpack(buy_bars)
ax_s.bar(bd, bh, bottom=-44, width=0.8, color='#00c000', lw=0, zorder=2)
sd, sh = unpack(sell_bars)
ax_s.bar(sd, sh, bottom=29 - sh, width=0.8, color='#cc0000', lw=0, zorder=2)
gd, gv = unpack(sel_gray)
ax_s.plot(gd, gv, color='#909090', lw=0.9, marker='s', ms=2.5, mfc='none', mec='#909090', zorder=3)
od, ov = unpack(sel_osc)
for i in range(len(od) - 1):
    col = '#00ff00' if ov[i] + ov[i + 1] >= 0 else '#ff0000'
    ax_s.plot(od[i:i + 2], ov[i:i + 2], color=col, lw=2, zorder=4)
ax_s.scatter(od, ov, s=12, marker='s', c=np.where(ov >= 0, '#00ff00', '#ff0000'), zorder=5)
fig.text(77 / W, 1 - 621 / H, 'Sel', color='#ff1a1a', fontsize=11.5, va='center')
fig.text(77 / W, 1 - 658 / H, 'Buy', color='#00e000', fontsize=11.5, va='center')

# ---------------- MACD panel ----------------
ax_m.set_ylim(-150, 150)
ax_m.set_yticks(range(-150, 151, 50))
md = mdates.datestr2num(macd_dates)
mh = np.array(macd_hist, dtype=float)
ax_m.bar(md, mh, width=1.4, color=np.where(mh >= 0, '#00e000', '#e00000'), lw=0, zorder=1)
ax_m.hlines(0, x0, x1, color='#80c000', lw=1.0, zorder=2)
ax_m.plot(md, macd_signal, color='#a020f0', lw=1.8, zorder=3)
ax_m.plot(md, macd_line, color='#ffc020', lw=1.8, zorder=4)
fig.text(86 / W, 1 - 702 / H, 'MACD', color='white', fontsize=11.5, va='center')

# ---------------- RSI panel ----------------
ax_r.set_ylim(0, 100)
ax_r.set_yticks(range(0, 101, 20))
ax_r.hlines([20, 50, 80], x0, x1, color='#404040', lw=1.0, zorder=1)
rd, rv = unpack(rsi)
ax_r.plot(rd, rv, color='#ffff00', lw=1.8, zorder=3)
ob = mdates.datestr2num(rsi_overbought_dates)
ob_level = np.full(len(ob), 97.0)
ax_r.plot(ob, ob_level, 'o', color='#ff2020', ms=2.5, zorder=3)
ax_r.hlines(ob_level, ob - 1.0, ob + 1.0, color='#ff2020', lw=1, zorder=3)
fig.text(92 / W, 1 - 855 / H, 'RSI', color='white', fontsize=11.5, va='center')

# ---------------- volume panel ----------------
ax_v.set_ylim(0, 16)
ax_v.set_yticks(range(0, 17, 2))
ax_v.text(1093 / W, 1 - 1077 / H, 'Volatility', transform=fig.transFigure, color='#40e0d0',
          fontsize=11.5, va='center', zorder=0.5)
ax_v.bar(x[up], volumes[up], width=0.6, color='#00e000', lw=0, zorder=1)
ax_v.bar(x[~up], volumes[~up], width=0.6, color='#e00000', lw=0, zorder=1)
vd, vv = unpack(volatility)
ax_v.plot(vd, vv, color='#40e0d0', lw=2, zorder=3)
fig.text(92 / W, 1 - 1005 / H, 'Volume(millions)', color='white', fontsize=11.5, va='center')
fig.text(1176 / W, 1 - 1004 / H, '(c) ntfri.com', color='#ffa030', fontsize=11.5, ha='right', va='center')

fig.savefig('out.png', dpi=100, facecolor=BG)
